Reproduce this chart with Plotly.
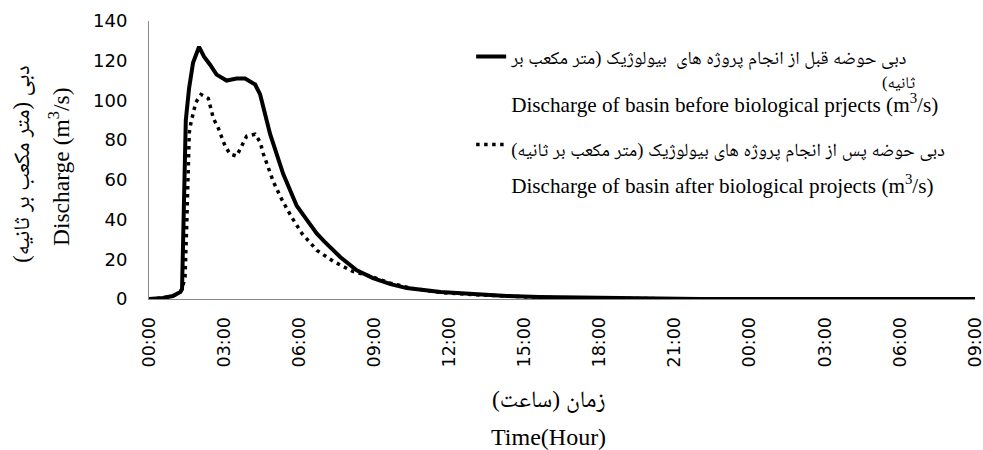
import plotly.graph_objects as go

# ---- data (hours from start, discharge m3/s) ----
hours_before = [0, 0.55, 0.95, 1.25, 1.32, 1.41, 1.47, 1.6, 1.76, 2.0, 2.2, 2.44, 2.7, 3.1, 3.5,
                3.84, 4.24, 4.44, 4.84, 5.36, 5.9, 6.3, 6.7, 7.0, 7.25, 7.65, 8.3, 8.95, 9.65,
                10.3, 11.65, 12.95, 14.3, 15.6, 17.0, 19.0, 20.0, 22.0, 33.0]
q_before = [0, 0.5, 1.5, 3.5, 5, 50, 90, 106, 119, 127, 122, 118, 113, 110, 111,
            111, 108, 103, 83, 63, 47, 40, 33, 29, 26, 21, 14.5, 10.5, 7.5,
            5.5, 3.5, 2.5, 1.5, 1.0, 0.8, 0.5, 0.2, 0, 0]

hours_after = [0, 0.55, 0.95, 1.25, 1.32, 1.44, 1.51, 1.57, 1.61, 1.68, 1.77, 1.87, 2.08, 2.37,
               2.57, 2.77, 3.04, 3.24, 3.5, 3.7, 3.9, 4.24, 4.44, 4.57, 4.7, 4.97, 5.31, 5.71,
               6.11, 6.71, 7.36, 8.12, 8.84, 9.64, 10.44, 11.65, 12.95, 14.3, 15.6, 17.0, 19.0,
               20.0, 22.0, 33.0]
q_after = [0, 0.5, 1.5, 3.5, 5, 11, 39, 73, 84, 89, 94, 99, 103, 101,
           91, 86, 77, 73, 72, 77, 82, 83, 79, 73, 68, 59, 50, 41,
           33, 24.5, 19, 14, 11.5, 8, 5.5, 3.3, 2.2, 1.3, 0.8, 0.5, 0.3,
           0.1, 0, 0]

tick_hours = [0, 3, 6, 9, 12, 15, 18, 21, 24, 27, 30, 33]
tick_labels = ["00:00", "03:00", "06:00", "09:00", "12:00", "15:00", "18:00",
               "21:00", "00:00", "03:00", "06:00", "09:00"]
y_ticks = [0, 20, 40, 60, 80, 100, 120, 140]

RLM = "\u200f"
NB = "\u00a0"


def fa(s, size=18.5):
    return '<span style="font-size:%spx">%s%s%s</span>' % (size, RLM, s, RLM)


def en(s, size=21.2):
    return '<span style="font-size:%spx">%s</span>' % (size, s)


name_before = (fa("دبی حوضه قبل از انجام پروژه های  بیولوژیک (متر مکعب بر")
               + "<br>" + en(NB * 70) + fa("ثانیه)", 16.5)
               + "<br>" + en("Discharge of basin before biological prjects (m<sup>3</sup>/s)"))
name_after = (fa("دبی حوضه پس از انجام پروژه های بیولوژیک (متر مکعب بر ثانیه)")
              + "<br>" + en("Discharge of basin after biological projects (m<sup>3</sup>/s)"))

fig = go.Figure()
fig.add_trace(go.Scatter(x=hours_before, y=q_before, mode="lines", name=name_before,
                         line=dict(color="black", width=4), legend="legend"))
fig.add_trace(go.Scatter(x=hours_after, y=q_after, mode="lines", name=name_after,
                         line=dict(color="black", width=3.5, dash="3.5px,4.5px"),
                         legend="legend2"))

serif = "Liberation Serif, Noto Naskh Arabic, Noto Sans Arabic, DejaVu Sans"
fig.update_layout(
    width=983, height=450,
    margin=dict(l=149, r=8, t=21, b=151, autoexpand=False),
    paper_bgcolor="white", plot_bgcolor="white",
    showlegend=True,
    legend=dict(x=0.390, y=0.939, xanchor="left", yanchor="top",
                font=dict(family=serif, size=18.5, color="black"),
                bgcolor="rgba(0,0,0,0)", valign="top"),
    legend2=dict(x=0.390, y=0.646, xanchor="left", yanchor="top",
                 font=dict(family=serif, size=28.5, color="black"),
                 bgcolor="rgba(0,0,0,0)", valign="top"),
    xaxis=dict(range=[0, 33], tickmode="array", tickvals=tick_hours, ticktext=tick_labels,
               tickangle=-90, showgrid=False, zeroline=False, showline=True,
               linecolor="#898989", linewidth=1, ticks="", ticklabelstandoff=10,
               ticklabeloverflow="allow",
               tickfont=dict(family="DejaVu Sans", size=17.5, color="black")),
    yaxis=dict(range=[0, 140], tickmode="array", tickvals=y_ticks,
               showgrid=False, zeroline=False, showline=True,
               linecolor="#898989", linewidth=1, ticks="", ticklabelstandoff=17,
               tickfont=dict(family="DejaVu Sans", size=18, color="black")),
    annotations=[
        dict(text="دبی (متر مکعب بر ثانیه)", xref="paper", yref="paper",
             x=-0.154, y=0.486, xanchor="center", yanchor="middle",
             textangle=-90, showarrow=False,
             font=dict(family=serif, size=22.5, color="black")),
        dict(text="Discharge (m<sup>3</sup>/s)", xref="paper", yref="paper",
             x=-0.109, y=0.478, xanchor="center", yanchor="middle",
             textangle=-90, showarrow=False,
             font=dict(family=serif, size=23.5, color="black")),
        dict(text="زمان (ساعت)", xref="paper", yref="paper",
             x=0.484, y=-0.363, xanchor="center", yanchor="middle", showarrow=False,
             font=dict(family=serif, size=23.5, color="black")),
        dict(text="Time(Hour)", xref="paper", yref="paper",
             x=0.484, y=-0.496, xanchor="center", yanchor="middle", showarrow=False,
             font=dict(family=serif, size=24, color="black")),
    ],
)

fig.write_html("out.html", config={"displayModeBar": False},
               post_script="document.body.style.margin='0';document.body.style.overflow='hidden';")
